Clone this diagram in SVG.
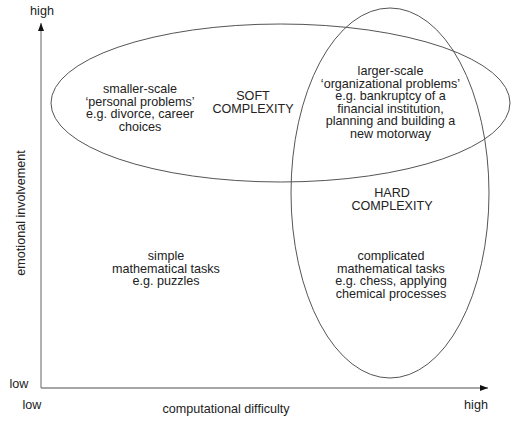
<svg xmlns="http://www.w3.org/2000/svg" width="512" height="424" viewBox="0 0 512 424">
<defs>
<marker id="arr" markerWidth="8" markerHeight="6" refX="8" refY="3" orient="auto" markerUnits="userSpaceOnUse">
<path d="M0,0 L8,3 L0,6 Z" fill="#111"/>
</marker>
<style>
text{font-family:"Liberation Sans",Arial,sans-serif;font-size:12.6px;fill:#222;text-anchor:middle}
.ell{fill:none;stroke:#555;stroke-width:1}
.axis{stroke:#888;stroke-width:1.3;fill:none}
</style>
</defs>
<rect width="512" height="424" fill="#fff"/>
<g id="connectors">
<path class="axis" d="M41,388 L41,23" marker-end="url(#arr)"/>
<path class="axis" d="M41,388 L488,388" marker-end="url(#arr)"/>
</g>
<g id="soft">
<ellipse class="ell" cx="280.5" cy="103" rx="229.5" ry="79"/>
<text x="140" y="93">smaller-scale</text>
<text x="140" y="105.5">‘personal problems’</text>
<text x="140" y="118">e.g. divorce, career</text>
<text x="140" y="130.5">choices</text>
<text x="253" y="100">SOFT</text>
<text x="253" y="112.5">COMPLEXITY</text>
</g>
<g id="hard">
<ellipse class="ell" cx="390" cy="193" rx="99" ry="185"/>
<text x="390.5" y="75">larger-scale</text>
<text x="390.5" y="87.5">‘organizational problems’</text>
<text x="390.5" y="100">e.g. bankruptcy of a</text>
<text x="390.5" y="112.5">financial institution,</text>
<text x="390.5" y="125">planning and building a</text>
<text x="390.5" y="137.5">new motorway</text>
<text x="392" y="197">HARD</text>
<text x="392" y="209.5">COMPLEXITY</text>
<text x="391" y="260">complicated</text>
<text x="391" y="272.5">mathematical tasks</text>
<text x="391" y="285">e.g. chess, applying</text>
<text x="391" y="297.5">chemical processes</text>
</g>
<g id="simple">
<text x="166" y="260">simple</text>
<text x="166" y="272.5">mathematical tasks</text>
<text x="166" y="285">e.g. puzzles</text>
</g>
<g id="labels">
<text x="42" y="15">high</text>
<text x="19" y="388">low</text>
<text x="32" y="409">low</text>
<text x="476" y="409">high</text>
<text x="226" y="413">computational difficulty</text>
<text transform="translate(25,213) rotate(-90)">emotional involvement</text>
</g>
</svg>
